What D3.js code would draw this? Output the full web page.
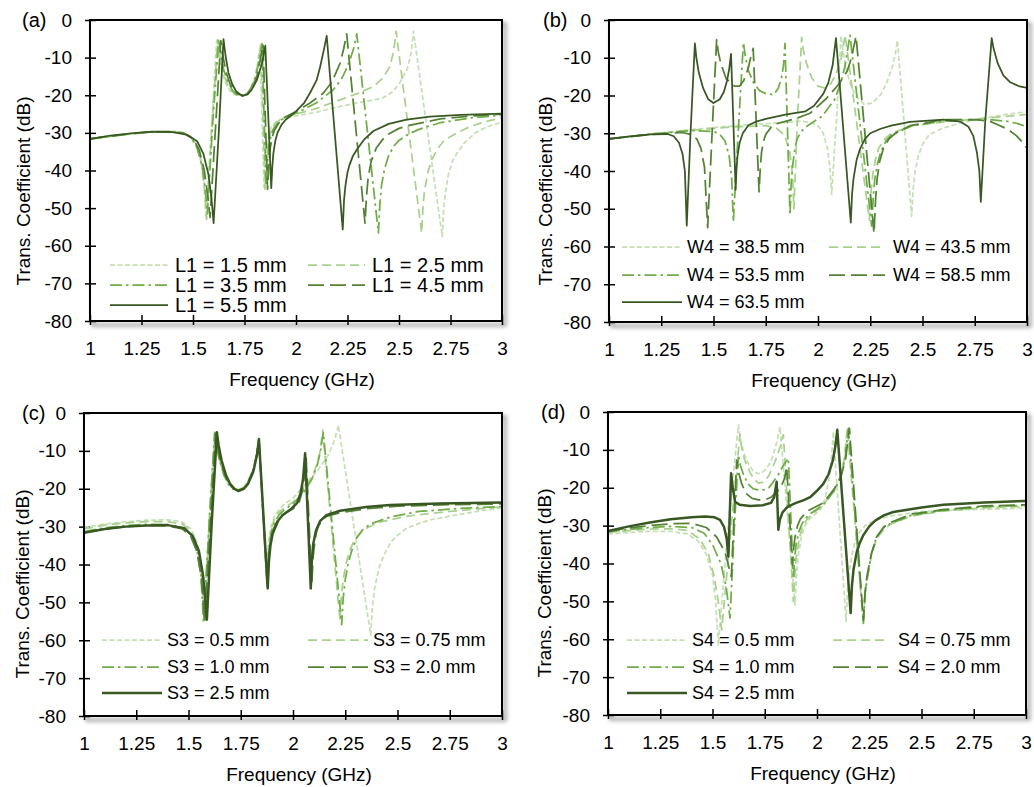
<!DOCTYPE html>
<html>
<head>
<meta charset="utf-8">
<script src="https://cdn.jsdelivr.net/npm/d3@7"></script>
<style>
  body { margin: 0; background: #fff; }
  text { font-family: "Liberation Sans", Arial, sans-serif; fill: #000; }
</style>
</head>
<body>
<svg id="chart" width="1034" height="787"></svg>
<script>
// Axis ticks shared by all four panels
const freqTicks = [1, 1.25, 1.5, 1.75, 2, 2.25, 2.5, 2.75, 3];
const dbTicks = [0, -10, -20, -30, -40, -50, -60, -70, -80];

// (a) L1 sweep, [frequency GHz, dB]
const labelsA = ['L1 = 1.5 mm', 'L1 = 2.5 mm', 'L1 = 3.5 mm', 'L1 = 4.5 mm', 'L1 = 5.5 mm'];
const aL15 = [[1.0,-31.8],[1.1,-31.0],[1.2,-30.3],[1.3,-29.8],[1.4,-29.6],[1.45,-29.9],[1.49,-31],[1.52,-33.5],[1.54,-37.5],[1.555,-44],[1.563,-52.5],[1.59,-28],[1.615,-5.5],[1.625,-9.5],[1.64,-13.5],[1.66,-17],[1.68,-18.8],[1.70,-19.8],[1.74,-20.2],[1.765,-19.6],[1.78,-18.5],[1.80,-15.5],[1.815,-11],[1.825,-7],[1.845,-44.5],[1.852,-38],[1.86,-33],[1.87,-30.3],[1.88,-28.5],[1.9,-27.3],[1.92,-26.5],[2.0,-25.5],[2.1,-24.5],[2.21,-23],[2.3,-22],[2.42,-20.8],[2.47,-19],[2.5,-17],[2.54,-13],[2.56,-8.5],[2.57,-3],[2.71,-57.6],[2.717,-50],[2.725,-46],[2.74,-41],[2.76,-37.5],[2.78,-35.5],[2.82,-32.5],[2.87,-30],[2.93,-28.3],[3.0,-27.2]];
const aL25 = [[1.0,-31.7],[1.1,-30.9],[1.2,-30.3],[1.3,-29.8],[1.4,-29.6],[1.45,-29.9],[1.49,-31.1],[1.52,-33.8],[1.54,-38],[1.555,-44.5],[1.566,-53],[1.592,-28],[1.62,-5.2],[1.63,-9.5],[1.645,-13.5],[1.665,-16.8],[1.685,-18.7],[1.705,-19.8],[1.74,-20.2],[1.765,-19.5],[1.78,-18.3],[1.803,-15.3],[1.818,-11],[1.83,-6.5],[1.85,-45],[1.857,-38],[1.865,-33],[1.875,-30.2],[1.885,-28.5],[1.905,-27.2],[1.93,-26.2],[2.0,-25],[2.1,-23.5],[2.18,-21.9],[2.3,-19.5],[2.376,-17.7],[2.42,-15.5],[2.456,-12.4],[2.475,-8],[2.486,-3],[2.61,-56.6],[2.617,-49],[2.625,-45],[2.64,-40.5],[2.66,-37],[2.69,-34],[2.72,-32],[2.78,-30],[2.85,-28.2],[2.92,-27],[3.0,-26]];
const aL35 = [[1.0,-31.6],[1.1,-30.9],[1.2,-30.2],[1.3,-29.8],[1.4,-29.7],[1.45,-30],[1.49,-31.2],[1.52,-34],[1.545,-39],[1.56,-45],[1.57,-51.5],[1.595,-28],[1.625,-5],[1.635,-9],[1.65,-13.5],[1.67,-16.5],[1.69,-18.6],[1.71,-19.7],[1.745,-20],[1.765,-19.4],[1.78,-18.2],[1.805,-15],[1.82,-11],[1.835,-6.3],[1.855,-44],[1.862,-37.5],[1.87,-33],[1.88,-30.5],[1.89,-29],[1.91,-27.5],[1.93,-26.5],[2.0,-24.8],[2.1,-22],[2.18,-18.6],[2.22,-15.8],[2.24,-13.5],[2.262,-10.6],[2.28,-7.5],[2.295,-3.7],[2.40,-56.6],[2.407,-49],[2.415,-44],[2.43,-39.5],[2.45,-36],[2.475,-33.5],[2.5,-32],[2.55,-30.2],[2.6,-29],[2.7,-27.3],[2.85,-26],[3.0,-25.3]];
const aL45 = [[1.0,-31.6],[1.1,-30.8],[1.2,-30.2],[1.3,-29.7],[1.4,-29.7],[1.46,-30.2],[1.5,-31.5],[1.53,-34.5],[1.555,-40],[1.57,-46],[1.583,-52.5],[1.61,-28],[1.635,-5.5],[1.645,-9.5],[1.66,-13.8],[1.68,-17],[1.70,-18.8],[1.72,-19.8],[1.75,-20],[1.77,-19.3],[1.79,-18],[1.81,-15],[1.825,-11],[1.84,-6.5],[1.862,-45],[1.868,-38.5],[1.875,-34],[1.885,-31],[1.895,-29.3],[1.915,-27.5],[1.94,-26],[2.0,-24.3],[2.07,-22],[2.133,-19.4],[2.17,-16.8],[2.19,-14.5],[2.214,-11.5],[2.232,-7.5],[2.246,-3.7],[2.335,-54],[2.342,-47],[2.35,-42],[2.365,-37.5],[2.39,-34],[2.42,-31.8],[2.45,-30.3],[2.5,-28.8],[2.55,-28],[2.7,-26.3],[2.85,-25.5],[3.0,-25]];
const aL55 = [[1.0,-31.6],[1.1,-30.7],[1.2,-30.1],[1.3,-29.7],[1.4,-29.8],[1.47,-30.5],[1.52,-32.2],[1.55,-35.5],[1.575,-41],[1.59,-47.5],[1.6,-54],[1.625,-30],[1.648,-5.1],[1.658,-9.5],[1.672,-14],[1.69,-17],[1.71,-19],[1.74,-20.2],[1.765,-19.8],[1.785,-18.5],[1.81,-16],[1.835,-11.5],[1.851,-6.8],[1.88,-44.7],[1.885,-39],[1.89,-35.5],[1.9,-32],[1.91,-30],[1.93,-27.8],[1.95,-26.5],[2.0,-24.3],[2.04,-22],[2.068,-19.4],[2.1,-16],[2.117,-12.5],[2.135,-8],[2.149,-4.2],[2.227,-55.7],[2.233,-48],[2.24,-44],[2.25,-40.5],[2.26,-38.5],[2.275,-36.3],[2.295,-34.5],[2.33,-31.8],[2.376,-29.5],[2.45,-27.6],[2.537,-26.5],[2.65,-25.7],[2.8,-25.2],[3.0,-24.9]];

// (b) W4 sweep
const labelsB = ['W4 = 38.5 mm', 'W4 = 43.5 mm', 'W4 = 53.5 mm', 'W4 = 58.5 mm', 'W4 = 63.5 mm'];
const bW385 = [[1.0,-31.5],[1.2,-30.2],[1.4,-29],[1.6,-28],[1.8,-27.3],[1.92,-26.8],[1.97,-27.2],[2.0,-28],[2.025,-30],[2.045,-34],[2.057,-39],[2.065,-46.2],[2.09,-25],[2.11,-4.2],[2.12,-8.5],[2.135,-13],[2.155,-17],[2.18,-20],[2.22,-22.3],[2.26,-22],[2.3,-19.8],[2.33,-16.5],[2.355,-12.5],[2.37,-9],[2.38,-5.4],[2.448,-52],[2.455,-45],[2.465,-40],[2.48,-36],[2.5,-33],[2.53,-30.5],[2.57,-29.3],[2.6,-28.6],[2.7,-27],[2.8,-26],[2.9,-25],[3.0,-24.3]];
const bW435 = [[1.0,-31.5],[1.2,-30.2],[1.4,-29.2],[1.6,-28.3],[1.75,-28],[1.8,-28.6],[1.84,-30.5],[1.865,-35],[1.878,-41],[1.885,-50],[1.90,-28],[1.922,-4.6],[1.93,-8],[1.945,-11.5],[1.97,-15.3],[2.0,-17.5],[2.03,-18],[2.06,-17],[2.085,-14.5],[2.11,-10.5],[2.13,-4],[2.246,-53],[2.253,-46],[2.262,-41],[2.275,-37],[2.29,-34],[2.32,-31.5],[2.35,-30],[2.45,-28],[2.6,-27],[2.8,-26],[3.0,-25]];
const bW535 = [[1.0,-31.5],[1.2,-30.2],[1.4,-29.3],[1.5,-29.5],[1.53,-30.3],[1.555,-32],[1.575,-36],[1.587,-42],[1.595,-53.4],[1.62,-28],[1.643,-6],[1.652,-9.5],[1.668,-13.5],[1.69,-16.5],[1.72,-18.7],[1.75,-19.5],[1.79,-19.8],[1.81,-18],[1.825,-15.5],[1.835,-12],[1.842,-6.2],[1.866,-51.7],[1.872,-43],[1.88,-38],[1.89,-34],[1.9,-31.5],[1.92,-29.5],[1.95,-28],[2.02,-25.5],[2.08,-21],[2.11,-16.5],[2.13,-12],[2.153,-4],[2.257,-54.6],[2.264,-47],[2.272,-42],[2.285,-38],[2.3,-35],[2.325,-32],[2.35,-30.5],[2.45,-28],[2.6,-26.8],[2.8,-26.3],[2.9,-26.8],[2.96,-27.5],[3.0,-28.3]];
const bW585 = [[1.0,-31.5],[1.2,-30.3],[1.35,-29.8],[1.39,-30.3],[1.42,-31.5],[1.44,-34],[1.457,-39],[1.472,-55],[1.495,-28],[1.515,-5.2],[1.523,-8.5],[1.535,-11.5],[1.56,-15.5],[1.6,-17.5],[1.625,-17.5],[1.645,-16],[1.665,-13],[1.68,-9.5],[1.69,-7.5],[1.718,-45.5],[1.724,-39],[1.73,-35],[1.74,-32],[1.75,-30.3],[1.775,-28.5],[1.8,-27.5],[1.9,-26],[1.962,-24.7],[2.04,-20.8],[2.1,-17],[2.14,-13.5],[2.16,-10],[2.182,-4.3],[2.268,-56.5],[2.275,-48],[2.283,-42],[2.295,-37.5],[2.313,-34],[2.34,-31.5],[2.37,-30],[2.44,-28],[2.6,-26.4],[2.76,-26.4],[2.82,-26.8],[2.855,-27.6],[2.91,-29],[2.95,-30.7],[2.98,-32.5],[3.0,-34]];
const bW635 = [[1.0,-31.5],[1.1,-30.8],[1.2,-30.3],[1.28,-30.2],[1.31,-30.8],[1.335,-32.5],[1.352,-35.5],[1.363,-40],[1.372,-54.5],[1.39,-30],[1.411,-6.2],[1.418,-10],[1.43,-14],[1.45,-18],[1.475,-21],[1.5,-22],[1.53,-21],[1.55,-19],[1.565,-16],[1.575,-13],[1.584,-9],[1.606,-45],[1.61,-39.5],[1.615,-36],[1.625,-32.5],[1.64,-30],[1.667,-27.9],[1.7,-27],[1.75,-26.2],[1.85,-25],[1.94,-24.2],[1.98,-22.8],[2.026,-19.5],[2.05,-16.5],[2.07,-12],[2.086,-4.8],[2.157,-53.7],[2.163,-46],[2.17,-42],[2.185,-37],[2.2,-34.3],[2.225,-31.5],[2.25,-30],[2.3,-28.8],[2.35,-28],[2.44,-27],[2.6,-26.4],[2.68,-26.9],[2.72,-28.3],[2.743,-30.7],[2.76,-35],[2.772,-40],[2.779,-48.2],[2.80,-27],[2.831,-4.8],[2.84,-7.5],[2.86,-11.5],[2.887,-14.7],[2.92,-16.5],[2.96,-17.5],[3.0,-18]];

// (c) S3 sweep
const labelsC = ['S3 = 0.5 mm', 'S3 = 0.75 mm', 'S3 = 1.0 mm', 'S3 = 2.0 mm', 'S3 = 2.5 mm'];
const cS05 = [[1.0,-30.2],[1.1,-29.3],[1.2,-28.7],[1.3,-28.3],[1.4,-28.2],[1.47,-28.8],[1.51,-30.5],[1.54,-34],[1.56,-40],[1.575,-52],[1.60,-28],[1.625,-5],[1.633,-8.5],[1.648,-12.5],[1.67,-16.5],[1.69,-18.7],[1.71,-19.8],[1.74,-20.2],[1.765,-19.5],[1.78,-18.5],[1.81,-15],[1.825,-11],[1.835,-6.5],[1.872,-43],[1.878,-37.5],[1.885,-33],[1.895,-30],[1.91,-27.5],[1.935,-25.3],[1.96,-24],[2.0,-22.5],[2.06,-18.8],[2.12,-15],[2.17,-11],[2.2,-7],[2.217,-3.2],[2.372,-58.6],[2.38,-51],[2.39,-46.5],[2.405,-42.5],[2.417,-40],[2.44,-37],[2.47,-34],[2.5,-32.3],[2.544,-30.4],[2.6,-29.2],[2.65,-28.3],[2.783,-26.9],[2.9,-25.8],[3.0,-25.1]];
const cS075 = [[1.0,-30.6],[1.1,-29.6],[1.2,-29],[1.3,-28.7],[1.4,-28.7],[1.47,-29.3],[1.51,-31],[1.54,-34.5],[1.56,-41],[1.577,-54],[1.60,-28],[1.628,-5.2],[1.636,-8.5],[1.65,-12.5],[1.675,-16.5],[1.695,-18.7],[1.715,-19.9],[1.74,-20.3],[1.765,-19.6],[1.78,-18.7],[1.81,-15.2],[1.828,-10.5],[1.837,-6.8],[1.874,-44],[1.88,-38],[1.888,-33.5],[1.898,-30.3],[1.91,-28.2],[1.93,-26.3],[1.96,-25],[2.0,-23.5],[2.05,-20.5],[2.09,-17],[2.115,-13.5],[2.13,-10],[2.142,-4.5],[2.225,-55],[2.232,-48],[2.24,-44],[2.255,-39.5],[2.27,-36.5],[2.29,-34],[2.31,-32.3],[2.35,-30.5],[2.4,-29],[2.55,-27.2],[2.75,-26],[3.0,-24.8]];
const cS10 = [[1.0,-31.3],[1.1,-30.3],[1.2,-29.7],[1.3,-29.4],[1.4,-29.5],[1.47,-30.3],[1.51,-32],[1.54,-36],[1.56,-43],[1.572,-55.5],[1.60,-28],[1.625,-5.3],[1.633,-8.5],[1.648,-12.5],[1.67,-16.5],[1.69,-18.8],[1.71,-20],[1.74,-20.5],[1.765,-19.8],[1.78,-18.7],[1.81,-15],[1.828,-10.5],[1.837,-7],[1.876,-44.5],[1.882,-38],[1.89,-33.5],[1.9,-30.5],[1.915,-28.5],[1.935,-26.8],[1.96,-25.5],[2.0,-24],[2.05,-21],[2.09,-17.5],[2.115,-14],[2.13,-10.5],[2.145,-5.2],[2.233,-55.9],[2.24,-49],[2.25,-44],[2.265,-39.5],[2.28,-36.5],[2.305,-33],[2.33,-31],[2.37,-29.3],[2.464,-27.5],[2.6,-26],[2.8,-25.2],[3.0,-24.7]];
const cS20 = [[1.0,-31.6],[1.1,-30.6],[1.2,-30],[1.3,-29.7],[1.4,-29.8],[1.47,-30.6],[1.51,-32.5],[1.54,-36.5],[1.56,-43],[1.578,-55],[1.605,-28],[1.63,-5.4],[1.638,-8.5],[1.652,-12.5],[1.675,-16.5],[1.695,-18.8],[1.715,-20],[1.74,-20.5],[1.765,-19.9],[1.78,-19],[1.81,-15.2],[1.828,-10.5],[1.837,-7],[1.877,-45.5],[1.883,-39],[1.89,-34.5],[1.9,-31.5],[1.915,-29.5],[1.935,-27.5],[1.96,-26.5],[2.0,-25.3],[2.03,-23.5],[2.045,-20.5],[2.055,-16.5],[2.063,-11.9],[2.09,-45.4],[2.095,-39],[2.1,-36],[2.11,-32],[2.12,-30],[2.14,-28.3],[2.16,-27.3],[2.225,-26.3],[2.35,-25.3],[2.5,-24.6],[2.75,-24.2],[3.0,-24]];
const cS25 = [[1.0,-31.6],[1.1,-30.6],[1.2,-30],[1.3,-29.7],[1.4,-29.6],[1.48,-30.4],[1.52,-32.5],[1.55,-36.5],[1.57,-43],[1.588,-54.6],[1.61,-30],[1.636,-5.1],[1.644,-8.5],[1.658,-12.5],[1.68,-16.5],[1.7,-18.8],[1.72,-20],[1.738,-20.6],[1.765,-20],[1.785,-18.7],[1.81,-15.5],[1.828,-11],[1.837,-6.9],[1.879,-46.3],[1.885,-39],[1.892,-35],[1.902,-32],[1.914,-30.4],[1.93,-28.3],[1.95,-27],[1.994,-25.2],[2.02,-23.7],[2.035,-21.5],[2.048,-17.5],[2.058,-10.6],[2.085,-46.3],[2.09,-39],[2.097,-34.5],[2.11,-31],[2.13,-28.5],[2.16,-27],[2.225,-25.8],[2.35,-24.8],[2.464,-24.3],[2.7,-23.9],[3.0,-23.6]];

// (d) S4 sweep
const labelsD = ['S4 = 0.5 mm', 'S4 = 0.75 mm', 'S4 = 1.0 mm', 'S4 = 2.0 mm', 'S4 = 2.5 mm'];
const dS05 = [[1.0,-32.2],[1.1,-31.8],[1.2,-31.5],[1.3,-31.5],[1.38,-32.2],[1.43,-34],[1.47,-37.5],[1.5,-43],[1.515,-50],[1.528,-61.5],[1.575,-30],[1.624,-3.4],[1.632,-6.5],[1.648,-10.5],[1.67,-13.5],[1.695,-15.7],[1.72,-16.3],[1.745,-15.7],[1.77,-14],[1.79,-11.5],[1.81,-7.5],[1.823,-3.9],[1.895,-50.9],[1.902,-43],[1.91,-38],[1.925,-33],[1.94,-30.3],[1.96,-28.5],[1.99,-27],[2.02,-25.5],[2.04,-22.5],[2.058,-17.5],[2.07,-11.5],[2.078,-5.2],[2.139,-55.3],[2.146,-47],[2.155,-42],[2.168,-37.5],[2.18,-34.5],[2.2,-32],[2.23,-30],[2.28,-28.5],[2.35,-27.5],[2.5,-26.3],[2.7,-25.8],[3.0,-25.4]];
const dS075 = [[1.0,-31.8],[1.1,-31.3],[1.2,-30.9],[1.3,-30.8],[1.38,-31.3],[1.44,-33.5],[1.48,-37.5],[1.51,-44],[1.53,-51],[1.544,-57.5],[1.59,-30],[1.631,-6],[1.64,-9.5],[1.655,-12.8],[1.68,-16],[1.7,-17.8],[1.72,-18.8],[1.745,-18.5],[1.77,-16.8],[1.80,-13],[1.825,-9],[1.839,-6],[1.887,-50],[1.894,-43],[1.90,-38.5],[1.915,-33.5],[1.93,-30.3],[1.95,-28.5],[1.97,-27.3],[2.03,-24.5],[2.08,-21],[2.11,-17.5],[2.13,-12.5],[2.145,-4.3],[2.222,-55.8],[2.23,-48],[2.24,-44],[2.26,-38],[2.285,-33.5],[2.32,-31],[2.35,-29.7],[2.45,-27.5],[2.6,-26.2],[2.8,-25.3],[3.0,-24.9]];
const dS10 = [[1.0,-31.6],[1.1,-31],[1.2,-30.5],[1.3,-30.2],[1.4,-30.5],[1.46,-32],[1.5,-35],[1.54,-40],[1.565,-46],[1.584,-54.4],[1.605,-30],[1.624,-11.3],[1.632,-13.8],[1.648,-16.5],[1.67,-19],[1.695,-20.3],[1.72,-20.6],[1.75,-20.5],[1.77,-20],[1.81,-17],[1.84,-14],[1.863,-12.2],[1.887,-43.9],[1.894,-38],[1.90,-35],[1.915,-31.3],[1.93,-29.3],[1.95,-27.8],[1.97,-26.8],[2.03,-24.5],[2.08,-21],[2.115,-17],[2.135,-12],[2.15,-4.3],[2.222,-55.8],[2.23,-48],[2.24,-44],[2.26,-37.5],[2.285,-33],[2.32,-30.5],[2.35,-29.5],[2.45,-27.3],[2.6,-26],[2.8,-25],[3.0,-24.6]];
const dS20 = [[1.0,-31.5],[1.1,-30.6],[1.2,-30],[1.3,-29.5],[1.4,-29.4],[1.47,-30.5],[1.52,-33],[1.56,-37],[1.59,-43.5],[1.616,-12.7],[1.625,-16],[1.64,-19],[1.66,-21.5],[1.69,-22.8],[1.72,-23.2],[1.75,-23.2],[1.78,-22.5],[1.81,-21],[1.83,-19.5],[1.845,-17.5],[1.855,-14.4],[1.882,-40.4],[1.888,-36],[1.895,-33],[1.907,-30],[1.92,-28.3],[1.94,-27],[1.96,-26],[2.03,-24],[2.08,-20.5],[2.115,-17],[2.138,-12],[2.155,-4.3],[2.222,-55],[2.23,-47.5],[2.24,-43],[2.26,-37.5],[2.285,-33],[2.32,-30.3],[2.35,-29.2],[2.45,-27],[2.6,-25.8],[2.8,-24.8],[3.0,-24.5]];
const dS25 = [[1.0,-31.4],[1.1,-30.2],[1.2,-29.2],[1.3,-28.3],[1.4,-27.8],[1.464,-27.6],[1.51,-27.8],[1.536,-28.5],[1.555,-30.3],[1.568,-33.5],[1.576,-38.2],[1.589,-16.2],[1.597,-20],[1.608,-23.7],[1.63,-24.5],[1.68,-24.8],[1.74,-24.6],[1.78,-24],[1.795,-22.5],[1.807,-18.4],[1.815,-31.1],[1.822,-28.5],[1.835,-26.5],[1.86,-25],[1.9,-24],[1.94,-23.2],[1.967,-22.5],[2.0,-20.8],[2.03,-19],[2.055,-16.5],[2.075,-13],[2.088,-9],[2.097,-4.7],[2.161,-53.1],[2.167,-46],[2.175,-41.5],[2.19,-37],[2.205,-34.5],[2.222,-32.5],[2.25,-30.2],[2.28,-28.6],[2.32,-27.3],[2.365,-26.4],[2.5,-25.2],[2.605,-24.5],[2.8,-23.9],[3.0,-23.5]];

// Line styles, lightest to darkest (Excel green shades)
const styles = [
  { color: '#C5E0B4', dash: '5,2.5' },
  { color: '#A9D18E', dash: '9,5' },
  { color: '#70AD47', dash: '12,4,2.5,4' },
  { color: '#548235', dash: '16,6' },
  { color: '#385723', dash: null }
];

const panels = [
  { tag: '(a)', tagX: 22, titleX: 23, x0: 90, x1: 502, y0: 20, y1: 321, labels: labelsA,
    series: [aL15, aL25, aL35, aL45, aL55], solidWidth: 1.75,
    legend: { cols: [[110, 168, 175], [308, 365, 372]], rows: [265, 285, 305], size: 20 } },
  { tag: '(b)', tagX: 543, titleX: 545, x0: 609, x1: 1027, y0: 20, y1: 322, labels: labelsB,
    series: [bW385, bW435, bW535, bW585, bW635], solidWidth: 1.75,
    legend: { cols: [[622, 682, 687], [829, 885, 893]], rows: [247, 275, 302], size: 18 } },
  { tag: '(c)', tagX: 22, titleX: 22, x0: 84, x1: 502, y0: 413, y1: 716, labels: labelsC,
    series: [cS05, cS075, cS10, cS20, cS25], solidWidth: 2.5,
    legend: { cols: [[102, 162, 167], [308, 368, 373]], rows: [640, 667, 693], size: 18 } },
  { tag: '(d)', tagX: 541, titleX: 544, x0: 608, x1: 1026, y0: 412, y1: 715, labels: labelsD,
    series: [dS05, dS075, dS10, dS20, dS25], solidWidth: 2.5,
    legend: { cols: [[627, 687, 692], [833, 888, 898]], rows: [640, 667, 693], size: 18 } }
];

const svg = d3.select('#chart');
svg.append('rect').attr('width', 1034).attr('height', 787).attr('fill', '#fff');

const defs = svg.append('defs');
defs.append('filter').attr('id', 'shadow')
    .attr('x', '-5%').attr('y', '-5%').attr('width', '110%').attr('height', '110%')
  .append('feGaussianBlur').attr('stdDeviation', 2);

panels.forEach((p, pi) => {
  const x = d3.scaleLinear().domain([1, 3]).range([p.x0, p.x1]);
  const y = d3.scaleLinear().domain([-80, 0]).range([p.y1, p.y0]);
  const g = svg.append('g');

  // Frame shadow, then white plot area
  g.append('rect')
    .attr('x', p.x0 + 3).attr('y', p.y0 + 4)
    .attr('width', p.x1 - p.x0).attr('height', p.y1 - p.y0)
    .attr('fill', 'none').attr('stroke', '#9a9a9a').attr('stroke-width', 3)
    .attr('filter', 'url(#shadow)');
  g.append('rect')
    .attr('x', p.x0).attr('y', p.y0)
    .attr('width', p.x1 - p.x0).attr('height', p.y1 - p.y0)
    .attr('fill', '#fff');

  defs.append('clipPath').attr('id', 'clip' + pi)
    .append('rect')
      .attr('x', p.x0).attr('y', p.y0)
      .attr('width', p.x1 - p.x0).attr('height', p.y1 - p.y0);

  // Y axis (ticks cross the frame)
  g.append('g')
    .attr('transform', `translate(${p.x0},0)`)
    .call(d3.axisLeft(y).tickValues(dbTicks).tickFormat(d => String(d)).tickSize(5).tickPadding(13))
    .call(a => a.select('.domain').remove())
    .call(a => a.selectAll('.tick line').attr('x1', 6).attr('stroke', '#000').attr('stroke-width', 1.5))
    .call(a => a.selectAll('.tick text').attr('font-size', 19).attr('font-family', '"Liberation Sans", Arial, sans-serif'));

  // X axis
  g.append('g')
    .attr('transform', `translate(0,${p.y1})`)
    .call(d3.axisBottom(x).tickValues(freqTicks).tickFormat(d => String(d)).tickSize(4).tickPadding(17))
    .call(a => a.select('.domain').remove())
    .call(a => a.selectAll('.tick line').attr('y1', -6).attr('stroke', '#000').attr('stroke-width', 1.5))
    .call(a => a.selectAll('.tick text').attr('font-size', 19).attr('font-family', '"Liberation Sans", Arial, sans-serif'));

  // Curves: straight segments keep the resonance peaks and nulls sharp
  const line = d3.line()
    .x(d => x(d[0]))
    .y(d => y(d[1]));

  const curves = g.append('g').attr('clip-path', `url(#clip${pi})`);
  p.series.forEach((data, i) => {
    const s = styles[i];
    curves.append('path')
      .attr('d', line(data))
      .attr('fill', 'none')
      .attr('stroke', s.color)
      .attr('stroke-width', s.dash ? 1.75 : p.solidWidth)
      .attr('stroke-dasharray', s.dash)
      .attr('stroke-linejoin', 'round');
  });

  // Frame
  g.append('rect')
    .attr('x', p.x0).attr('y', p.y0)
    .attr('width', p.x1 - p.x0).attr('height', p.y1 - p.y0)
    .attr('fill', 'none').attr('stroke', '#000').attr('stroke-width', 2);

  // Legend, two columns filled row by row
  p.labels.forEach((label, i) => {
    const s = styles[i];
    const col = p.legend.cols[i % 2];
    const row = p.legend.rows[Math.floor(i / 2)];
    g.append('line')
      .attr('x1', col[0]).attr('x2', col[1])
      .attr('y1', row).attr('y2', row)
      .attr('stroke', s.color)
      .attr('stroke-width', s.dash ? 1.75 : p.solidWidth)
      .attr('stroke-dasharray', s.dash);
    g.append('text')
      .attr('x', col[2]).attr('y', row)
      .attr('dy', '0.35em')
      .attr('font-size', p.legend.size)
      .text(label);
  });

  // Panel tag
  g.append('text')
    .attr('x', p.tagX).attr('y', p.y0 + 7)
    .attr('font-family', '"Liberation Serif", "Times New Roman", serif')
    .attr('font-size', 20)
    .text(p.tag);

  // Axis titles
  g.append('text')
    .attr('transform', `translate(${p.titleX},${p.y0 + 171}) rotate(-90)`)
    .attr('text-anchor', 'middle')
    .attr('dy', '0.35em')
    .attr('font-size', 19)
    .text('Trans. Coefficient (dB)');

  g.append('text')
    .attr('x', (p.x0 + p.x1) / 2 + 6).attr('y', p.y1 + 65)
    .attr('text-anchor', 'middle')
    .attr('font-size', 19)
    .text('Frequency (GHz)');
});
</script>
</body>
</html>
